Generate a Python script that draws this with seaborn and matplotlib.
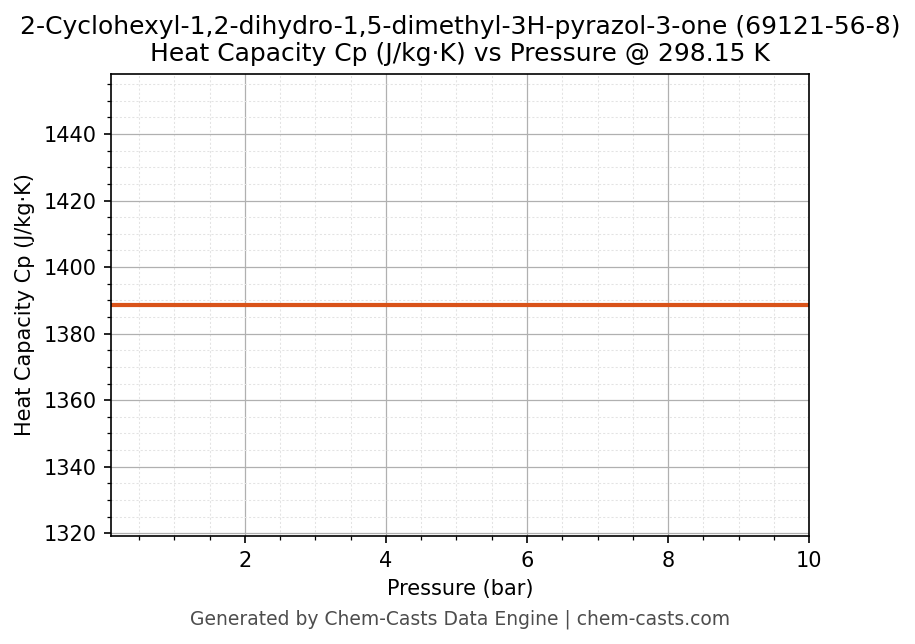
import numpy as np
import pandas as pd
import matplotlib
matplotlib.use("Agg")
import matplotlib.pyplot as plt
import seaborn as sns
from matplotlib.ticker import AutoMinorLocator

# Chart data
pressure_bar = [0.1, 1, 2, 3, 4, 5, 6, 7, 8, 9, 10]
cp_values = [1388.6, 1388.6, 1388.6, 1388.6, 1388.6, 1388.6,
             1388.6, 1388.6, 1388.6, 1388.6, 1388.6]

title = ("2-Cyclohexyl-1,2-dihydro-1,5-dimethyl-3H-pyrazol-3-one (69121-56-8)\n"
         "Heat Capacity Cp (J/kg·K) vs Pressure @ 298.15 K")
footer = "Generated by Chem-Casts Data Engine | chem-casts.com"

df = pd.DataFrame({"Pressure": pressure_bar, "Cp": cp_values})

plt.rcParams['font.family'] = ['DejaVu Sans']

fig = plt.figure(figsize=(6.1, 644 / 150), dpi=150)
ax = fig.add_axes([0.1213, 0.1677, 0.7629, 0.7174])

sns.lineplot(data=df, x="Pressure", y="Cp", ax=ax, color="#D95319", linewidth=2)

# y range is +/- 5% around the value
mean_cp = np.mean(cp_values)
ax.set_xlim(min(pressure_bar), max(pressure_bar))
ax.set_ylim(mean_cp * 0.95, mean_cp * 1.05)

ax.xaxis.set_minor_locator(AutoMinorLocator())
ax.yaxis.set_minor_locator(AutoMinorLocator())
ax.grid(True, which="major", color="#b0b0b0", linewidth=0.6)
ax.grid(True, which="minor", color="#e3e3e3", linestyle=(0, (2, 2)), linewidth=0.5)
ax.set_axisbelow(True)

ax.set_xlabel("Pressure (bar)", fontsize=10)
ax.set_ylabel("Heat Capacity Cp (J/kg·K)", fontsize=10)
ax.set_title(title, fontsize=12)
ax.tick_params(labelsize=10)

fig.text(0.503, 0.039, footer, ha="center", va="center", fontsize=9, color="#4d4d4d")

fig.savefig("out.png", dpi=150)
